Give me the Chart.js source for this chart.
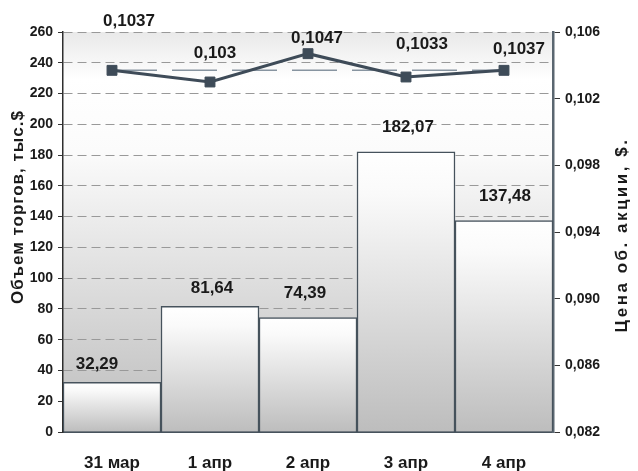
<!DOCTYPE html>
<html>
<head>
<meta charset="utf-8">
<script src="https://cdn.jsdelivr.net/npm/chart.js@4/dist/chart.umd.min.js"></script>
<style>
  html, body { margin: 0; padding: 0; background: #fff; }
  #wrap { width: 638px; height: 471px; }
</style>
</head>
<body>
<div id="wrap"><canvas id="chart" width="638" height="471"></canvas></div>
<script>
const days = ['31 мар', '1 апр', '2 апр', '3 апр', '4 апр'];
const volume = [32.29, 81.64, 74.39, 182.07, 137.48];
const price = [0.1037, 0.103, 0.1047, 0.1033, 0.1037];
const priceLevel = [0.1037, 0.1037, 0.1037, 0.1037, 0.1037];

// label nudges (px) as placed in the original
const priceLabelLift = [49, 29, 15, 33, 21];
const priceLabelShift = [17, 5, 9, 16, 15];
const volLabelLift = [18, 18, 24, 25, 24];
const volLabelShift = [-15, 2, -3, 2, 1];

const dark = '#3e4b58';
const fontFam = '"Liberation Sans", Arial, sans-serif';
const fmt = (v, d) => v.toFixed(d).replace('.', ',');

const plotBg = {
  id: 'plotBg',
  beforeDraw(chart) {
    const { ctx, chartArea: a } = chart;
    const g = ctx.createLinearGradient(0, a.top, 0, a.bottom);
    g.addColorStop(0, '#e9e9e9');
    g.addColorStop(0.12, '#ffffff');
    g.addColorStop(0.3, '#fbfbfb');
    g.addColorStop(1, '#bcbcbc');
    ctx.save();
    ctx.fillStyle = g;
    ctx.fillRect(a.left, a.top, a.right - a.left, a.bottom - a.top);
    ctx.restore();
  }
};

const labels = {
  id: 'labels',
  afterDatasetsDraw(chart) {
    const { ctx } = chart;
    ctx.save();
    ctx.fillStyle = '#1a1a1a';
    ctx.font = 'bold 17px ' + fontFam;
    ctx.textAlign = 'center';
    ctx.textBaseline = 'middle';
    chart.getDatasetMeta(0).data.forEach((bar, i) => {
      ctx.fillText(fmt(volume[i], 2), bar.x + volLabelShift[i], bar.y - volLabelLift[i]);
    });
    chart.getDatasetMeta(2).data.forEach((pt, i) => {
      ctx.fillText(String(price[i]).replace('.', ','), pt.x + priceLabelShift[i], pt.y - priceLabelLift[i]);
    });

    // axis titles, both reading bottom to top
    ctx.font = 'bold 17px ' + fontFam;
    ctx.save();
    ctx.letterSpacing = '1px';
    ctx.translate(18, 207);
    ctx.rotate(-Math.PI / 2);
    ctx.fillText('Объем торгов, тыс.$', 0, 0);
    ctx.restore();
    ctx.save();
    ctx.letterSpacing = '2.5px';
    ctx.translate(622, 235);
    ctx.rotate(-Math.PI / 2);
    ctx.fillText('Цена об. акции, $.', 0, 0);
    ctx.restore();
    ctx.restore();
  }
};

new Chart(document.getElementById('chart'), {
  data: {
    labels: days,
    datasets: [
      {
        type: 'bar',
        data: volume,
        yAxisID: 'y',
        order: 3,
        barPercentage: 1,
        categoryPercentage: 1,
        borderColor: '#46525c',
        borderWidth: 1.5,
        borderSkipped: 'bottom',
        backgroundColor(c) {
          const chart = c.chart;
          const a = chart.chartArea;
          if (!a || c.dataIndex === undefined) return '#ddd';
          const top = chart.scales.y.getPixelForValue(volume[c.dataIndex]);
          const g = chart.ctx.createLinearGradient(0, top, 0, a.bottom);
          g.addColorStop(0, '#ffffff');
          g.addColorStop(0.15, '#fafafa');
          g.addColorStop(1, '#bdbdbd');
          return g;
        }
      },
      {
        type: 'line',
        data: priceLevel,
        yAxisID: 'y1',
        order: 2,
        borderColor: '#8794a0',
        borderWidth: 1.5,
        borderDash: [45, 15],
        pointRadius: 0,
        fill: false
      },
      {
        type: 'line',
        data: price,
        yAxisID: 'y1',
        order: 1,
        borderColor: dark,
        borderWidth: 3,
        pointStyle: 'rect',
        pointRadius: 7,
        pointBackgroundColor: dark,
        pointBorderColor: dark,
        pointBorderWidth: 1,
        tension: 0,
        fill: false
      }
    ]
  },
  options: {
    responsive: false,
    animation: false,
    layout: { padding: { top: 32, left: 0, right: 0, bottom: 0 } },
    plugins: {
      legend: { display: false },
      tooltip: { enabled: false }
    },
    scales: {
      x: {
        grid: { display: false, drawTicks: false },
        border: { display: true, color: '#46525c', width: 2 },
        ticks: {
          padding: 21,
          color: '#1a1a1a',
          font: { family: fontFam, size: 17, weight: 'bold' }
        },
        afterFit(s) { s.height = 39; }
      },
      y: {
        position: 'left',
        min: 0,
        max: 260,
        ticks: {
          stepSize: 20,
          padding: 5,
          color: '#1a1a1a',
          font: { family: fontFam, size: 14, weight: 'bold' }
        },
        grid: {
          color: '#999999',
          tickBorderDash: [],
          tickColor: '#333',
          tickLength: 5
        },
        border: { color: '#2e2e2e', width: 1.5, dash: [9, 5] },
        afterFit(s) { s.width = 63; }
      },
      y1: {
        position: 'right',
        min: 0.082,
        max: 0.106,
        ticks: {
          stepSize: 0.004,
          padding: 5,
          color: '#1a1a1a',
          callback: v => fmt(v, 3),
          font: { family: fontFam, size: 14, weight: 'bold' }
        },
        grid: {
          drawOnChartArea: false,
          tickColor: '#333',
          tickLength: 7
        },
        border: { color: '#5a6670', width: 2.5 },
        afterFit(s) { s.width = 85; }
      }
    }
  },
  plugins: [plotBg, labels]
});
</script>
</body>
</html>
